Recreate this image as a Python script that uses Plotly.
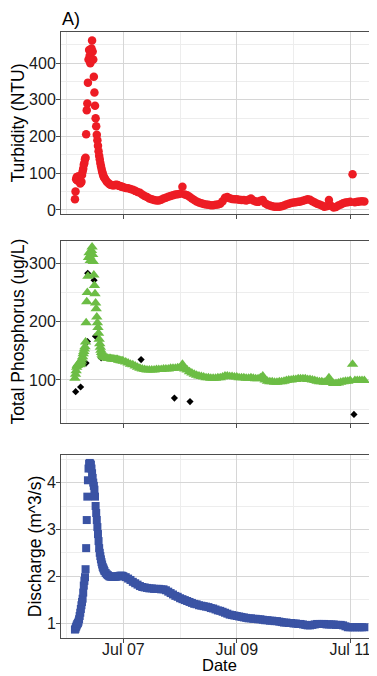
import pandas as pd
import plotly.graph_objects as go

# ---------------- data ----------------
BASE = pd.Timestamp("2017-07-06 00:00")

# sampling times (hours after Jul 06 00:00): 15-min during the event, 30-min after, then hourly
hours = ([3.5 + 0.25 * i for i in range(50)]
         + [16 + 0.5 * i for i in range(16)]
         + list(range(24, 127)))

turbidity = [
    29, 50, 84, 90, 80, 88, 92, 85, 78, 72,
    75, 77, 95, 105, 112, 123, 128, 138, 142, 206,
    272, 290, 347, 410, 436, 420, 400, 415, 440, 462,
    432, 410, 363, 320, 284, 250, 228, 205, 190, 175,
    160, 148, 138, 128, 120, 112, 105, 99, 94, 90,
    87, 82, 77, 74, 71, 69, 68, 67, 67, 68, 69, 68, 66, 65, 64, 63,
    62, 60, 59, 57, 55, 52, 49, 47, 42, 38,
    35, 31, 29, 27, 26, 26, 28, 31, 33, 36,
    38, 40, 42, 43, 44, 63, 42, 40, 36, 31,
    27, 23, 20, 18, 16, 15, 14, 13, 13, 14,
    15, 17, 24, 33, 35, 32, 30, 29, 29, 28,
    27, 27, 26, 28, 31, 26, 23, 22, 25, 27,
    18, 14, 12, 10, 9, 9, 9, 10, 12, 15,
    17, 19, 20, 21, 22, 23, 25, 27, 29, 28,
    24, 20, 17, 15, 12, 9, 10, 27, 11, 7,
    8, 12, 15, 18, 20, 21, 22, 97, 21, 22,
    23, 24, 23,
]

tp_modelled = [
    103, 110, 116, 122, 125, 127, 127, 127, 126, 127,
    129, 132, 136, 140, 145, 149, 153, 157, 165, 198,
    234, 250, 278, 310, 318, 312, 305, 315, 322, 328,
    315, 303, 280, 262, 248, 232, 222, 208, 198, 190,
    180, 170, 162, 156, 151, 147, 144, 142, 141, 140,
    139, 138, 138, 137, 137, 137, 136, 136, 136, 135, 135, 135, 134, 134, 133, 133,
    132, 131, 129, 127, 126, 124, 122, 120, 119, 118,
    117, 117, 117, 117, 118, 118, 118, 119, 119, 119,
    120, 120, 120, 121, 121, 127, 119, 117, 114, 112,
    110, 108, 107, 106, 105, 104, 104, 103, 103, 103,
    104, 104, 105, 107, 107, 106, 106, 105, 105, 104,
    104, 104, 103, 103, 104, 103, 102, 102, 104, 107,
    100, 98, 97, 97, 96, 96, 97, 97, 98, 99,
    100, 100, 101, 101, 102, 102, 102, 102, 101, 101,
    100, 99, 98, 97, 97, 96, 96, 104, 96, 94,
    94, 95, 96, 97, 98, 98, 99, 127, 99, 99,
    99, 99, 99,
]

discharge = [
    0.86, 0.88, 0.92, 0.95, 0.98, 1.00, 1.03, 1.08, 1.15, 1.22,
    1.30, 1.38, 1.45, 1.52, 1.65, 1.80, 1.90, 1.98, 2.15, 2.60,
    3.20, 3.70, 4.05, 4.30, 4.40, 4.42, 4.40, 4.38, 4.30, 4.20,
    4.10, 4.00, 3.93, 3.85, 3.70, 3.50, 3.35, 3.20, 3.05, 2.90,
    2.75, 2.60, 2.50, 2.43, 2.36, 2.30, 2.25, 2.20, 2.17, 2.14,
    2.11, 2.07, 2.04, 2.02, 2.00, 1.99, 1.99, 1.99, 1.99, 1.99, 1.99, 2.00, 2.00, 2.01, 2.01, 2.01,
    2.00, 1.98, 1.95, 1.92, 1.88, 1.85, 1.82, 1.79, 1.77, 1.76,
    1.75, 1.74, 1.74, 1.73, 1.73, 1.73, 1.72, 1.72, 1.70, 1.67,
    1.64, 1.61, 1.58, 1.56, 1.53, 1.51, 1.49, 1.47, 1.45, 1.43,
    1.41, 1.40, 1.38, 1.37, 1.36, 1.35, 1.34, 1.32, 1.31, 1.29,
    1.27, 1.26, 1.24, 1.22, 1.20, 1.18, 1.17, 1.16, 1.15, 1.14,
    1.13, 1.12, 1.11, 1.10, 1.10, 1.09, 1.09, 1.08, 1.08, 1.07,
    1.06, 1.06, 1.05, 1.05, 1.04, 1.04, 1.03, 1.02, 1.01, 1.01,
    1.00, 1.00, 0.99, 0.99, 0.98, 0.98, 0.97, 0.96, 0.95, 0.95,
    0.96, 0.97, 0.98, 0.98, 0.98, 0.98, 0.97, 0.97, 0.97, 0.97,
    0.96, 0.96, 0.96, 0.95, 0.93, 0.91, 0.91, 0.91, 0.91, 0.91,
    0.91, 0.91, 0.91,
]

# grab samples of total phosphorus
sample_hours = [3.8, 5.9, 8.2, 8.8, 8.9, 11.6, 12.2, 14.6, 31.5, 45.6, 52.2, 121.6]
tp_samples = [80, 88, 129, 166, 283, 271, 175, 138, 135, 69, 63, 41]

assert len(hours) == len(turbidity) == len(tp_modelled) == len(discharge)

times = BASE + pd.to_timedelta(hours, unit="h")
sample_times = BASE + pd.to_timedelta(sample_hours, unit="h")

# ---------------- styling ----------------
FONT = "Liberation Sans, Arial, sans-serif"
RED = "#ED1C24"
GREEN = "#6CBD45"
BLUE = "#3A53A4"
AXC = "#4D4D4D"
GRID = "#D6D6D6"
MINOR = "#EDEDED"

x_range = [BASE + pd.Timedelta(hours=-2.4), BASE + pd.Timedelta(hours=131.35)]

fig = go.Figure()
fig.add_trace(go.Scatter(x=times, y=turbidity, mode="markers",
                         marker=dict(symbol="circle", size=8.5, color=RED),
                         xaxis="x", yaxis="y", name="Turbidity"))
fig.add_trace(go.Scatter(x=sample_times, y=tp_samples, mode="markers",
                         marker=dict(symbol="diamond", size=5.5, color="black"),
                         xaxis="x2", yaxis="y2", name="TP samples"))
fig.add_trace(go.Scatter(x=times, y=tp_modelled, mode="markers",
                         marker=dict(symbol="triangle-up", size=10, color=GREEN),
                         xaxis="x2", yaxis="y2", name="TP"))
fig.add_trace(go.Scatter(x=times, y=discharge, mode="markers",
                         marker=dict(symbol="square", size=8, color=BLUE),
                         xaxis="x3", yaxis="y3", name="Discharge"))


def xaxis(anchor, labels):
    return dict(type="date", range=x_range, anchor=anchor,
                tick0="2017-07-07", dtick=2 * 86400000, tickformat="%b %d",
                showticklabels=labels, ticks="outside", ticklen=4, tickcolor=AXC,
                ticklabelstandoff=-7,
                showgrid=True, gridcolor=GRID, gridwidth=1,
                minor=dict(dtick=86400000, showgrid=True, gridcolor=MINOR, gridwidth=1),
                showline=True, linecolor=AXC, linewidth=1, mirror=True,
                zeroline=False, tickfont=dict(size=16, color="#1A1A1A", family=FONT),
                automargin=False)


def yaxis(anchor, domain, rng, dtick, minor_dtick, title):
    return dict(domain=domain, range=rng, anchor=anchor, dtick=dtick,
                ticks="outside", ticklen=4, tickcolor=AXC,
                ticklabelstandoff=-3,
                showgrid=True, gridcolor=GRID, gridwidth=1,
                minor=dict(dtick=minor_dtick, showgrid=True, gridcolor=MINOR, gridwidth=1),
                showline=True, linecolor=AXC, linewidth=1, mirror=False,
                zeroline=False, tickfont=dict(size=16, color="#1A1A1A", family=FONT),
                title=dict(text=title, font=dict(size=17.5, color="black", family=FONT),
                           standoff=0),
                automargin=False)


# the page body adds an 8px offset, so the figure is 8px smaller and margins are 8px tighter
fig.update_layout(
    width=369, height=668,
    margin=dict(l=53, r=0, t=24, b=38),
    paper_bgcolor="white", plot_bgcolor="white",
    showlegend=False,
    font=dict(family=FONT, color="black"),
    xaxis=xaxis("y", False),
    xaxis2=xaxis("y2", False),
    xaxis3=xaxis("y3", True),
    yaxis=yaxis("x", [0.6997, 1.0], [-11, 485], 100, 50, "Turbidity (NTU)"),
    yaxis2=yaxis("x2", [0.3553, 0.6556], [26.8, 338.8], 100, 50, "Total Phosphorus (ug/L)"),
    yaxis3=yaxis("x3", [0.0, 0.3020], [0.68, 4.59], 1, 0.5, "Discharge (m^3/s)"),
    annotations=[
        dict(text="A)", x=0, y=1.0, xref="paper", yref="paper",
             xanchor="left", yanchor="bottom", showarrow=False, xshift=-1, yshift=1,
             font=dict(size=18, color="black", family=FONT)),
        dict(text="Date", x=0.5, y=0, xref="paper", yref="paper",
             xanchor="center", yanchor="bottom", showarrow=False, yshift=-38,
             font=dict(size=16.5, color="black", family=FONT)),
    ],
)

fig.write_html("out.html")
